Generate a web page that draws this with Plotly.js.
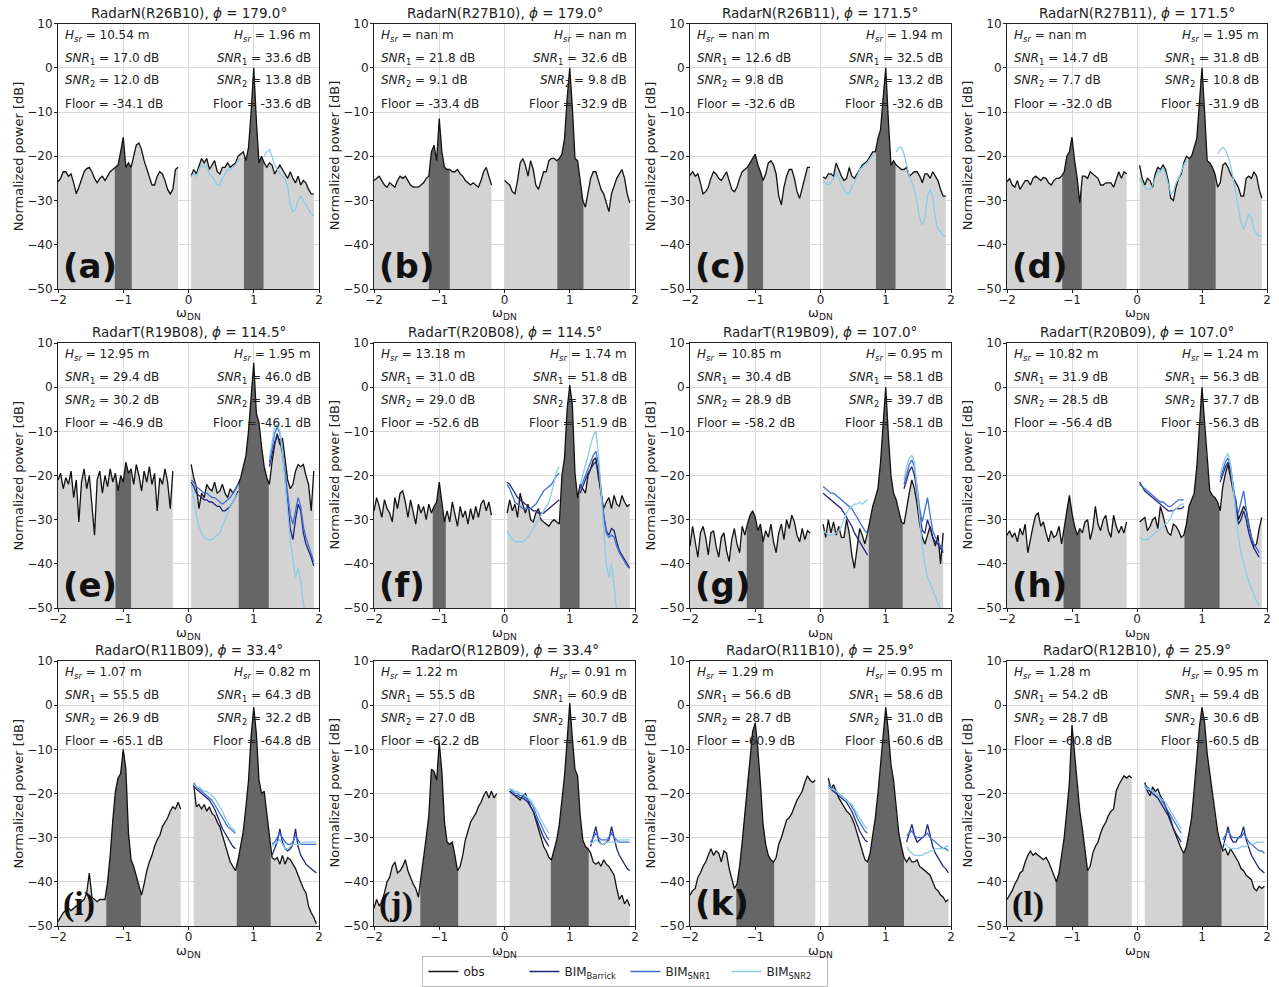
<!DOCTYPE html>
<html><head><meta charset="utf-8">
<script src="https://cdn.plot.ly/plotly-3.0.1.min.js"></script>
<style>html,body{margin:0;padding:0;background:#fff}#chart{width:1279px;height:987px}</style>
</head><body><div id="chart"></div>
<script>
const _ = null;
// frequency grid (omega_DN)
const FREQ_NEG = [-2,-1.96,-1.92,-1.88,-1.84,-1.8,-1.76,-1.72,-1.68,-1.64,-1.6,-1.56,-1.52,-1.48,-1.44,-1.4,-1.36,-1.32,-1.28,-1.24,-1.2,-1.16,-1.12,-1.08,-1.04,-1,-0.96,-0.92,-0.88,-0.84,-0.8,-0.76,-0.72,-0.68,-0.64,-0.6,-0.56,-0.52,-0.48,-0.44,-0.4,-0.36,-0.32,-0.28,-0.24,-0.2,-0.16,-0.12,-0.08,-0.04];
const FREQ_POS = [0,0.04,0.08,0.12,0.16,0.2,0.24,0.28,0.32,0.36,0.4,0.44,0.48,0.52,0.56,0.6,0.64,0.68,0.72,0.76,0.8,0.84,0.88,0.92,0.96,1,1.04,1.08,1.12,1.16,1.2,1.24,1.28,1.32,1.36,1.4,1.44,1.48,1.52,1.56,1.6,1.64,1.68,1.72,1.76,1.8,1.84,1.88,1.92,1.96,2];

const RADAR = ['RadarN(R26B10)','RadarN(R27B10)','RadarN(R26B11)','RadarN(R27B11)','RadarT(R19B08)','RadarT(R20B08)','RadarT(R19B09)','RadarT(R20B09)','RadarO(R11B09)','RadarO(R12B09)','RadarO(R11B10)','RadarO(R12B10)'];
const PHI = ['179.0','179.0','171.5','171.5','114.5','114.5','107.0','107.0','33.4','33.4','25.9','25.9'];
const LABELS = ['(a)','(b)','(c)','(d)','(e)','(f)','(g)','(h)','(i)','(j)','(k)','(l)'];
const HSR_LEFT = ['10.54','nan','nan','nan','12.95','13.18','10.85','10.82','1.07','1.22','1.29','1.28'];
const HSR_RIGHT = ['1.96','nan','1.94','1.95','1.95','1.74','0.95','1.24','0.82','0.91','0.95','0.95'];
const SNR1_LEFT = ['17.0','21.8','12.6','14.7','29.4','31.0','30.4','31.9','55.5','55.5','56.6','54.2'];
const SNR1_RIGHT = ['33.6','32.6','32.5','31.8','46.0','51.8','58.1','56.3','64.3','60.9','58.6','59.4'];
const SNR2_LEFT = ['12.0','9.1','9.8','7.7','30.2','29.0','28.9','28.5','26.9','27.0','28.7','28.7'];
const SNR2_RIGHT = ['13.8','9.8','13.2','10.8','39.4','37.8','39.7','37.7','32.2','30.7','31.0','30.6'];
const FLOOR_LEFT = ['-34.1','-33.4','-32.6','-32.0','-46.9','-52.6','-58.2','-56.4','-65.1','-62.2','-60.9','-60.8'];
const FLOOR_RIGHT = ['-33.6','-32.9','-32.6','-31.9','-46.1','-51.9','-58.1','-56.3','-64.8','-61.9','-60.6','-60.5'];
// first-order (Bragg) regions
const BAND_NEG = [[-1.13,-0.87],[-1.16,-0.84],[-1.12,-0.88],[-1.15,-0.85],[-1.12,-0.88],[-1.10,-0.90],[-1.13,-0.87],[-1.13,-0.87],[-1.26,-0.73],[-1.29,-0.71],[-1.29,-0.71],[-1.25,-0.75]];
const BAND_POS = [[0.85,1.15],[0.81,1.21],[0.85,1.15],[0.79,1.21],[0.77,1.23],[0.85,1.15],[0.74,1.26],[0.73,1.27],[0.74,1.26],[0.71,1.29],[0.73,1.28],[0.70,1.30]];

// ---- observed spectra ----
const OBS_A_NEG = [-25.8,-25,-23.5,-23.5,-24.5,-24,-26,-28.5,-27,-25,
-23.5,-22.8,-22.5,-23.5,-25,-26,-25,-24.5,-25.5,-24.5,
-23.5,-23,-22.5,-22,-19,-15.7,-22.5,-21.5,-22.5,-20,
-17.5,-17,-18.5,-21,-23,-25,-26.5,-26.5,-24.5,-23.5,
-24,-25.5,-27.5,-28.5,-27.5,-23,-22.5,_,_,_];
const OBS_A_POS = [_,-24.5,-23,-24,-22,-20.5,-21.5,-20.5,-23,-22,
-21,-23.5,-24,-22.5,-22.5,-21.5,-22.5,-22,-21.5,-20,
-19.5,-19,-21,-18,-10,0,-12,-21.5,-20,-21.5,
-22.5,-21.5,-22,-24,-23,-22,-23,-24,-25,-23.5,
-25,-26,-24.5,-26.5,-25.5,-26,-27.5,-28.5,-28.5,_,_];

const OBS_B_NEG = [-25.5,-25,-24.5,-25.5,-26.5,-27,-26,-26.5,-27,-25.5,
-24.5,-25,-24.5,-25.5,-26.5,-27,-27,-27,-26.5,-26,
-25,-24.5,-19,-17.5,-21,-11.5,-19,-22.5,-23,-23,
-23.5,-23.5,-23,-24,-24.5,-25.5,-26,-26.5,-26,-26.5,
-27,-25.5,-23.5,-22.5,-24.5,-26.5,_,_,_,_];
const OBS_B_POS = [-25.5,-26,-26.5,-28,-28.5,-25.5,-21.5,-20.5,-22,-24.5,
-21,-23,-26.5,-27.5,-25.5,-23.5,-23.5,-21,-20.5,-20.5,
-21,-20.5,-19.5,-16,-7,0,-9,-20.5,-21,-26,
-30,-31.5,-28.5,-25,-23.5,-23.5,-25.5,-27.5,-28.5,-30.5,
-32.5,-28.5,-26.5,-25,-24,-23,-25,-28.5,-30.5,_,_];

const OBS_C_NEG = [-24.3,-23.5,-24.5,-24,-26,-28.5,-28,-27,-25,-23.5,
-24,-25,-25.5,-24.5,-23.5,-25.5,-27.5,-28,-27,-25,
-23.5,-23,-22.5,-21.5,-20.5,-19.5,-22,-23.5,-25.5,-24,
-21.5,-21,-22,-24,-29,-31,-27,-24.5,-23,-23,
-25,-28,-29.5,-27,-25,-22.5,-22.5,_,_,_];
const OBS_C_POS = [_,-24.7,-25,-24,-24,-24.5,-21.5,-23,-24.5,-25.5,
-25,-22.5,-24.5,-25,-24,-23,-22,-21.5,-21,-20,
-19,-19,-16,-14,-6,0,-12,-22,-21,-22,
-22.5,-23,-23,-22.5,-24.5,-24,-23.5,-23.5,-24.5,-26,
-24,-24,-25,-23.5,-24.5,-25.5,-27.5,-29,-29,_,_];

const OBS_D_NEG = [-25.8,-25,-26.5,-27,-25.5,-27.5,-26.5,-25.5,-25.5,-26.5,
-25,-24.5,-25,-25.5,-24.8,-25,-26,-26.5,-25.5,-25,
-25,-24.5,-23.5,-20,-19,-15.7,-21,-25,-30.5,-24.5,
-24.5,-25,-23.5,-24,-24.5,-25,-26.5,-26.5,-26,-26,
-26,-27,-25,-23.5,-25,-23.5,-24,_,_,_];
const OBS_D_POS = [_,-22,-25,-26.5,-25,-25.5,-27,-24,-22.5,-23,
-22,-23,-25.5,-29.5,-30,-27,-25,-24,-21.5,-20,
-20.5,-20,-18,-16,-8,0,-10,-21,-21.5,-22.5,
-24,-27,-26,-22,-21.5,-22.5,-24,-25,-26,-27,
-29,-29,-25,-24.5,-25,-23.5,-24.5,-27.5,-29.5,_,_];

const OBS_E_NEG = [-21,-19.5,-23,-20.5,-22,-19,-25,-21,-30.5,-21.5,
-18.5,-23,-20,-26,-33.5,-21,-19,-24,-20,-22.5,
-18.5,-21.5,-19.5,-23.5,-20,-21.5,-17,-19.5,-18.5,-22,
-17.5,-20,-23.5,-19,-21.5,-18,-22,-19.5,-28,-20.5,
-22,-18.5,-21.5,-27.5,-19,_,_,_,_,_];
const OBS_E_POS = [_,-17.5,-20.5,-22.5,-27.5,-24,-25,-22,-23,-23.5,
-21.5,-24,-23.5,-22,-24,-25,-23,-24,-23,-22,
-20.5,-18,-15.5,-10,-2,5.5,-6,-8,-13.5,-18,
-20.5,-22,-17,-13,-10.5,-13,-11.5,-16.5,-21,-23,
-22,-19,-17.5,-18,-17.5,-20,-22,-28,-19,_,_];

const OBS_F_NEG = [-28,-25,-27,-29.5,-25.5,-27.5,-28.5,-30.5,-25,-27.5,
-24,-23.5,-26,-29.5,-25.5,-28,-31,-26.5,-28.5,-27,
-30,-26.5,-28.5,-27,-26,-21.5,-26,-30.5,-28,-30.5,
-26,-28.5,-31.5,-27,-29.5,-28,-31,-27.5,-30,-27,
-29.5,-26.5,-25.5,-28,-26,-29,_,_,_,_];
const OBS_F_POS = [_,-28.5,-25.5,-28,-26.5,-29.5,-24,-26.5,-28.5,-26.5,
-30,-30.5,-28.5,-27.5,-30,-30.5,-31,-31.5,-30.5,-30,
-30.5,-31,-20,-16,-5,0.5,-4,-19.5,-25,-22,
-23,-24,-20,-18.5,-16.5,-16,-20.5,-24,-27.5,-26,
-25,-27.5,-24.5,-26.5,-27,-24.5,-26,-27,-26.5,_,_];

const OBS_G_NEG = [-36,-31.5,-35,-38.5,-33,-31.5,-34,-38,-33,-32.5,
-36,-38.5,-34,-33,-37,-39.5,-34.5,-32,-35.5,-37.5,
-31.5,-33.5,-31,-29,-28,-29.5,-32.5,-31,-35,-32.5,
-34,-31,-35,-37.5,-33,-31,-34.5,-30,-32,-29,
-30.5,-33.5,-35,-32,-34.5,-32.5,-33,_,_,_];
const OBS_G_POS = [_,-31,-34,-30,-33,-30.5,-33.5,-31.5,-34,-34,
-30,-33,-38,-41,-36.5,-32,-33.5,-35.5,-33,-30,
-27,-25,-23,-17,-8,0,-11,-20,-24,-25.5,
-28,-30.5,-31,-27,-24,-21,-23,-26.5,-31,-34,
-35.5,-33.5,-31.5,-34,-36,-33.5,-40,-33,_,_,_];

const OBS_H_NEG = [-33.5,-32.5,-34,-33,-35,-32,-33.5,-31,-37.5,-34,
-31.5,-29,-28.5,-31.5,-30.5,-33,-35,-32.5,-34,-33.5,
-31.5,-35.5,-32,-27.5,-24.5,-28.5,-31.5,-33.5,-32,-33,
-30.5,-30,-34.5,-32,-27,-31,-32.5,-30,-29,-32.5,
-34,-29,-31.5,-33,-31.5,-33,-30.5,_,_,_];
const OBS_H_POS = [_,-30.5,-30,-29.5,-32.5,-31.5,-30,-29.5,-32,-27,
-29,-31.5,-33,-33.5,-31,-31.5,-32.5,-34,-33.5,-31,
-27,-25.5,-24,-18,-9.5,0,-8,-17,-23.5,-24.5,
-25,-26,-28,-22.5,-19.5,-17.5,-20.5,-23.5,-25.5,-30,
-28.5,-27,-28,-31.5,-34,-36,-35.5,-32,-29.5,_,_];

const OBS_I_NEG = [-49,-48,-47,-46.5,-46,-46.5,-46,-45.5,-45,-44.5,
-44,-42.5,-38,-43.5,-44,-44.5,-44,-44,-44,-40,
-34,-26,-19.5,-16.5,-15.5,-10,-14.5,-29,-35,-36.5,
-38.5,-41,-43,-40.5,-37.5,-35.5,-34,-32,-30.5,-29.5,
-27.5,-26.5,-25.5,-24,-23,-23.5,-22,-23.5,_,_];
const OBS_I_POS = [_,_,-18,-23,-22.5,-23.5,-22.5,-24,-23,-24.5,
-25,-26.5,-27.5,-29.5,-31.5,-33.5,-35.5,-36.5,-37.5,-35,
-32,-28.5,-23,-17,-7,-0.5,-6.5,-17,-20,-19.5,
-24.5,-29.5,-34.5,-35,-34.5,-36,-34,-36,-34.5,-35,
-36,-37,-38.5,-40,-41.5,-42.5,-45.5,-47,-48,-49.5,_];

const OBS_J_NEG = [-46,-44,-45.5,-44.5,-42.5,-40,-39,-36.5,-35.5,-38,
-37.5,-36.5,-35,-37.5,-39,-40.5,-41.5,-43.5,-39,-35,
-30,-25,-14.5,-15,-17,-8.5,-15,-26.5,-31,-31.5,
-31,-34,-37.5,-36.5,-34,-30.5,-28.5,-26.5,-25.5,-24.5,
-23,-22,-20.5,-19.5,-21,-19.5,-21,-20,_,_];
const OBS_J_POS = [_,_,-19.5,-20,-20.5,-21,-21.5,-20.5,-20,-21.5,
-23,-24,-26,-28,-30.5,-32,-33,-34.5,-35,-33,
-30.5,-27,-22,-16,-8,0.5,-7.5,-14.5,-16,-25,
-30.5,-32,-32.5,-33.5,-35.5,-36,-35.5,-36.5,-35,-36,
-36.5,-37.5,-38.5,-41.5,-44,-43,-45,-44,-45.5,_,_];

const OBS_K_NEG = [-43,-42,-41.5,-39,-38,-36.5,-35.5,-34,-32.5,-34,
-33,-33.5,-35.5,-33,-33.5,-37,-39.5,-41.5,-40.5,-36.5,
-31,-24.5,-17.5,-12,-6,-4,-10,-18,-27,-31.5,
-34,-35,-35.5,-34.5,-31.5,-30,-28,-26,-25.5,-24.5,
-23,-21.5,-20.5,-19.5,-17.5,-16,-17,-17.5,-17,_];
const OBS_K_POS = [_,_,_,-16.5,-19,-18,-19.5,-21,-22,-23,
-24,-24.5,-25.5,-27,-29,-31,-32.5,-35,-35.5,-33.5,
-29.5,-25.5,-20,-14,-7.5,-0.5,-6,-13.5,-17,-24,
-29,-32,-34.5,-35.5,-34.5,-35.5,-35.5,-35,-36.5,-37,
-37.5,-38,-38.5,-40,-41.5,-42,-43,-43.5,-44.5,-44,_];

const OBS_L_NEG = [-44,-43,-42,-40.5,-39.5,-38,-37.5,-35.5,-34,-33,
-34,-33.5,-34,-34.5,-35,-34.5,-35.5,-37,-38.5,-40,
-38,-34.5,-30,-24,-17.5,-4.5,-11,-18.5,-24,-28,
-32.5,-37.5,-36.5,-33.5,-32,-31,-29,-27.5,-26.5,-25,
-24,-23.5,-19.5,-18,-17,-16,-16.5,-16,-16.5,_];
const OBS_L_POS = [_,_,_,-17.5,-19.5,-20.5,-18.5,-19.5,-19,-20.5,
-21.5,-23,-24.5,-26,-28,-29.5,-31,-32.5,-33.5,-32,
-29,-25.5,-19,-12.5,-5,-0.5,-4,-11,-15.5,-20,
-25,-28.5,-31,-33,-32.5,-34,-32.5,-33.5,-34.5,-35.5,
-37,-37.5,-38.5,-39,-39.5,-41.5,-42,-41,-41.5,-41,_];

// ---- BIM spectra (positive side, on FREQ_POS) ----
const BIM2_A = [_,-24.5,-24,-24.5,-23,-22,-22.5,-22,-24,-24.5,
-25.5,-26.5,-26.5,-25,-24,-23,-23,-22.5,-22,-21,
-20.5,_,_,_,_,_,_,_,_,-20,
-19,-18.5,-20,-22,-23,-24,-24.5,-25,-27,-31,
-32.5,-32,-30,-29,-30,-31,-32,-33,-33.5,_,_];
const BIM2_C = [_,-25.8,-26,-26.5,-26,-25,-24,-25,-26.5,-27.5,
-28.5,-28.5,-27,-26,-24.5,-23,-22.5,-22,-21.5,-20.5,
-20,-19.5,_,_,_,_,_,_,_,-19,
-18,-18,-19.5,-22,-24.5,-26,-27.5,-30.5,-34,-35.5,
-34,-29,-27.5,-29,-34,-36.5,-37,-38,-38,_,_];
const BIM2_D = [_,-25,-26,-27,-27.5,-27.5,-26.5,-25,-23.5,-23.5,
-22.5,-24,-26.5,-28.5,-28,-26,-25,-23.5,-22,-21,
_,_,_,_,_,_,_,_,_,_,
_,-19.5,-18.5,-18,-18.5,-20,-22,-25,-28.5,-32,
-35,-36.5,-35,-33,-34,-36.5,-37.5,-38,-38,_,_];

const BIMB_E = [_,-21.5,-22.5,-24,-24.5,-25,-25.5,-25.5,-26,-26,
-26.5,-27,-27,-28,-28,-27.5,-27,-26,-25,-23.5,
_,_,_,_,_,_,_,_,_,_,
_,-18,-15,-12.5,-11,-12,-15,-20,-26,-32,
-34.5,-30,-26.5,-28,-33,-35.5,-37,-38.5,-40.5,_,_];
const BIM1_E = [_,-21,-21.5,-22.5,-23,-23.5,-24,-24,-24.5,-25,
-25,-25.5,-26,-26.5,-26,-25.5,-25,-24,-23,-22,
_,_,_,_,_,_,_,_,_,_,
_,-17,-13.5,-10.5,-9,-10.5,-14,-19.5,-24.5,-29,
-31,-28,-25,-27,-31.5,-34,-36,-38,-39.5,_,_];
const BIM2_E = [_,-22,-25,-29,-31.5,-33,-34,-34.5,-34.5,-34.5,
-34,-33.5,-33,-31.5,-30,-28.5,-27,-26,-25,-24,
_,_,_,_,_,_,_,_,_,_,
_,-16,-12,-9,-8.5,-10,-14.5,-21,-28,-35,
-39,-43,-41,-44,-49,-52,_,_,_,_,_];

const BIMB_F = [_,-21.5,-22,-23,-24,-25,-25.5,-26,-26.5,-27,
-27.5,-28,-28,-28.5,-28.5,-28.5,-28,-27.5,-27,-26.5,
-26,-25.5,_,_,_,_,_,_,_,-24,
-22.5,-21,-19.5,-18.5,-17.5,-17,-19,-24,-29,-32.5,
-33.5,-32,-32.5,-35,-37,-38,-39,-40,-41,_,_];
const BIM1_F = [_,-22,-23,-24.5,-26,-26.5,-27,-27.5,-27.5,-27.5,
-27.5,-27,-26.5,-25.5,-24.5,-23.5,-23,-22.5,-22,-21,
-20,-19.5,_,_,_,_,_,_,_,-23,
-21.5,-20,-18.5,-17,-15.5,-14.5,-17.5,-23,-29,-33,
-34,-33.5,-34,-36,-37.5,-38.5,-39.5,-40.5,-41,_,_];
const BIM2_F = [_,-32.5,-33.5,-34.5,-35,-35,-35,-35,-34.5,-34,
-33,-32,-31,-30,-29,-28,-27,-26,-24,-21.5,
-19,-18,_,_,_,_,_,_,_,-22,
-20,-18,-15.5,-13,-11,-10,-15,-24,-33,-40,
-43,-40,-45,-51,_,_,_,_,_,_,_];

const BIMB_G = [_,-24,-24.5,-25,-25.5,-26,-26.5,-27,-27.5,-28.5,
-29.5,-30.5,-31.5,-33,-34,-35,-36,-37,-38,_,
_,_,_,_,_,_,_,_,_,_,
_,_,-23,-21,-19,-18,-20,-24,-29,-32.5,
-33,-30,-32,-34,-35,-35.5,-36.5,-37.5,_,_,_];
const BIM1_G = [_,-22.5,-23,-23.5,-24,-24,-24.5,-25,-25.5,-26,
-26.5,-27,-27.5,-28.5,-29.5,-30.5,-31.5,-32.5,-33,_,
_,_,_,_,_,_,_,_,_,_,
_,_,-22,-19.5,-17.5,-16.5,-18,-22.5,-27.5,-30.5,
-28,-25,-29,-32.5,-34,-35,-36,-37,_,_,_];
const BIM2_G = [_,-32.5,-33,-33.5,-33.5,-33.5,-33,-32.5,-31.5,-30,
-28.5,-27.5,-27,-26.5,-26.5,-26,-26.5,-26,-25.5,_,
_,_,_,_,_,_,_,_,_,_,
_,_,-21,-18,-16,-15.5,-17,-23,-30,-36,
-40,-43,-44.5,-46,-47.5,-49,-50.5,_,_,_,_];

const BIMB_H = [_,-21.5,-22.5,-23.5,-24,-24.5,-25,-25.5,-26,-26.5,
-27,-27.5,-28,-28,-28,-27.5,-27.5,-27.5,-27,_,
_,_,_,_,_,_,_,_,_,_,
_,_,-21.5,-19.5,-18,-17,-19,-23,-27.5,-31,
-30,-28,-30,-33,-35,-36.5,-37.5,-38.5,_,_,_];
const BIM1_H = [_,-22,-22.5,-23,-23.5,-24,-24.5,-25,-25.5,-26,
-26,-26.5,-27,-27,-26.5,-26,-25.5,-25.5,-25.5,_,
_,_,_,_,_,_,_,_,_,_,
_,_,-20.5,-18.5,-17,-16,-18,-22,-26.5,-28.5,
-26,-23.5,-27.5,-31.5,-34,-35.5,-36.5,-37.5,_,_,_];
const BIM2_H = [_,-34,-34.5,-34.5,-34.5,-34,-33.5,-33,-32.5,-32,
-31.5,-31,-30.5,-29.5,-28,-27.5,-27,-26.5,-26.5,_,
_,_,_,_,_,_,_,_,_,_,
_,_,-20,-17.5,-16,-15,-17.5,-23,-29,-34,
-37.5,-40,-42,-44,-45.5,-47,-48.5,-49.5,_,_,_];

const BIMB_I = [_,_,-18,-19,-19.5,-20,-20.5,-21,-21.5,-22.5,
-23.5,-25,-26.5,-28,-29,-30,-31,-32,-32.5,_,
_,_,_,_,_,_,_,_,_,_,
_,_,-34,-32.5,-31,-28,-31,-32.5,-33,-32.5,
-31.5,-28,-32,-34,-35,-36,-36.5,-37,-37.5,-38,_];
const BIM1_I = [_,_,-17.5,-18.5,-19,-19.5,-20,-20.5,-21,-21.5,
-22.5,-23.5,-24.5,-25.5,-26.5,-27.5,-28,-28.5,-29,_,
_,_,_,_,_,_,_,_,_,_,
_,_,-31.5,-31,-30,-29,-30,-31,-31.5,-31.5,
-31,-29.5,-30.5,-31.5,-31.5,-31.5,-31.5,-31.5,-31.5,-31.5,_];
const BIM2_I = [_,_,-18,-18.5,-18.5,-19,-19.5,-19.5,-20,-20.5,
-21,-22,-23,-24,-25.5,-26.5,-27.5,-28,-28.5,_,
_,_,_,_,_,_,_,_,_,_,
_,_,-32,-31.5,-31,-30.5,-31.5,-32.5,-32.5,-32,
-31.5,-31.5,-31.5,-31.5,-31,-31,-31,-31,-31,-31,_];

const BIMB_J = [_,_,-19.5,-20,-20.5,-20.5,-21,-21,-21.5,-22,
-23,-24,-25.5,-27,-28.5,-30,-31,-32,_,_,
_,_,_,_,_,_,_,_,_,_,
_,_,_,-32,-29.5,-27.5,-30.5,-31.5,-31.5,-31,
-30.5,-27.5,-30,-32.5,-34,-35,-36,-37,-37.5,_,_];
const BIM1_J = [_,_,-19,-19.5,-20,-20,-20.5,-20.5,-21,-21.5,
-22,-23,-24.5,-26,-27,-28.5,-29.5,-30.5,_,_,
_,_,_,_,_,_,_,_,_,_,
_,_,_,-31,-30,-29,-30,-30.5,-30.5,-30.5,
-30,-29,-30,-30.5,-31,-31,-31,-31,-31,_,_];
const BIM2_J = [_,_,-19,-19,-19.5,-19.5,-20,-20,-20.5,-21,
-21.5,-22.5,-23.5,-24.5,-26,-27,-28,-29,_,_,
_,_,_,_,_,_,_,_,_,_,
_,_,_,-31.5,-31,-30.5,-31,-31.5,-31.5,-31,
-31,-31,-31,-31,-30.5,-30.5,-30.5,-30.5,-30.5,_,_];

const BIMB_K = [_,_,_,-18.5,-19,-19.5,-20,-20.5,-21,-21.5,
-22,-23,-24,-25.5,-27,-28.5,-29.5,-30.5,-31,_,
_,_,_,_,_,_,_,_,_,_,
_,_,_,-31,-29,-27,-29.5,-31,-30.5,-30,
-29.5,-27,-29.5,-32,-33.5,-34.5,-35.5,-36.5,-37,-38,_];
const BIM1_K = [_,_,_,-18,-18.5,-19,-19.5,-20,-20.5,-21,
-21.5,-22,-23,-24,-25.5,-26.5,-27.5,-28.5,-29,_,
_,_,_,_,_,_,_,_,_,_,
_,_,_,-29.5,-29,-28.5,-29.5,-30,-30,-30,
-29.5,-29,-30,-30.5,-31,-31.5,-32,-32.5,-32.5,-33,_];
const BIM2_K = [_,_,_,-18.5,-19,-19,-19.5,-20,-20.5,-21,
-21.5,-22,-22.5,-23.5,-24.5,-25.5,-26.5,-27.5,-28,_,
_,_,_,_,_,_,_,_,_,_,
_,_,_,-32,-33,-33.5,-34,-34,-34,-34,
-33.5,-33.5,-33,-33,-32.5,-32.5,-32.5,-32.5,-32,-32,_];

const BIMB_L = [_,_,_,-18.5,-19,-19.5,-20,-20.5,-21,-22,
-23,-24,-25,-26.5,-28,-29,-30,-31,_,_,
_,_,_,_,_,_,_,_,_,_,
_,_,_,-32.5,-30,-27.5,-30,-31,-31,-30,
-29.5,-27.5,-30.5,-32.5,-34,-35,-36,-37,-37.5,-38,_];
const BIM1_L = [_,_,_,-18,-18.5,-19,-19.5,-20,-20.5,-21,
-22,-23,-24,-25,-26,-27,-28,-29,_,_,
_,_,_,_,_,_,_,_,_,_,
_,_,_,-30.5,-29.5,-28.5,-29.5,-30,-30,-30,
-30,-29,-30,-31,-31.5,-32,-32.5,-33,-33,-33.5,_];
const BIM2_L = [_,_,_,-18.5,-19,-19,-19.5,-20,-20.5,-21,
-21.5,-22,-23,-24,-25,-26,-27,-28,_,_,
_,_,_,_,_,_,_,_,_,_,
_,_,_,-31,-31.5,-32,-32.5,-32.5,-32.5,-32.5,
-32,-32,-32,-31.5,-31.5,-31.5,-31,-31,-31,-31,_];

// ---------------- build ----------------
const FREQ = FREQ_NEG.concat(FREQ_POS);
const OBS = [[OBS_A_NEG,OBS_A_POS],[OBS_B_NEG,OBS_B_POS],[OBS_C_NEG,OBS_C_POS],[OBS_D_NEG,OBS_D_POS],
  [OBS_E_NEG,OBS_E_POS],[OBS_F_NEG,OBS_F_POS],[OBS_G_NEG,OBS_G_POS],[OBS_H_NEG,OBS_H_POS],
  [OBS_I_NEG,OBS_I_POS],[OBS_J_NEG,OBS_J_POS],[OBS_K_NEG,OBS_K_POS],[OBS_L_NEG,OBS_L_POS]].map(p => p[0].concat(p[1]));
const BIM_BARRICK = [_,_,_,_,BIMB_E,BIMB_F,BIMB_G,BIMB_H,BIMB_I,BIMB_J,BIMB_K,BIMB_L];
const BIM_SNR1 = [_,_,_,_,BIM1_E,BIM1_F,BIM1_G,BIM1_H,BIM1_I,BIM1_J,BIM1_K,BIM1_L];
const BIM_SNR2 = [BIM2_A,_,BIM2_C,BIM2_D,BIM2_E,BIM2_F,BIM2_G,BIM2_H,BIM2_I,BIM2_J,BIM2_K,BIM2_L];

const W = 1279, H = 987, BASE = -50;
const COLS = [[58,319],[374,635],[690,951],[1007,1267]];
const ROWS = [[23.5,289],[343,608],[661,926]];
const C_LIGHT = '#d3d3d3', C_DARK = '#666666';
const C_OBS = '#111111', C_BAR = '#1f2679', C_S1 = '#3f6fd6', C_S2 = '#8ccbe6';
const FONT = 'DejaVu Sans, sans-serif';

function areaPolygon(xs, ys) {
  const px = [], py = []; let run = [];
  const flush = () => {
    if (run.length) {
      px.push(run[0][0]); py.push(BASE);
      run.forEach(p => { px.push(p[0]); py.push(p[1]); });
      px.push(run[run.length-1][0]); py.push(BASE);
      px.push(null); py.push(null);
    }
    run = [];
  };
  xs.forEach((x, i) => { if (ys[i] === null) flush(); else run.push([x, ys[i]]); });
  flush();
  return {px, py};
}
function valueAt(xs, ys, x) {
  for (let i = 0; i < xs.length - 1; i++) {
    if (xs[i] <= x + 1e-9 && x <= xs[i+1] + 1e-9 && ys[i] !== null && ys[i+1] !== null) {
      const t = (x - xs[i]) / (xs[i+1] - xs[i]);
      return ys[i] + t * (ys[i+1] - ys[i]);
    }
  }
  return BASE;
}
function bandPolygon(xs, ys, lo, hi, acc) {
  acc.px.push(lo); acc.py.push(BASE);
  acc.px.push(lo); acc.py.push(valueAt(xs, ys, lo));
  xs.forEach((x, i) => { if (x > lo + 1e-9 && x < hi - 1e-9 && ys[i] !== null) { acc.px.push(x); acc.py.push(ys[i]); } });
  acc.px.push(hi); acc.py.push(valueAt(xs, ys, hi));
  acc.px.push(hi); acc.py.push(BASE);
  acc.px.push(null); acc.py.push(null);
}

const traces = [], annotations = [], layout = {};
const shown = {obs:false, bar:false, s1:false, s2:false};
const TXT = {size: 12, color: '#222', family: FONT};

for (let k = 0; k < 12; k++) {
  const r = Math.floor(k / 4), c = k % 4;
  const sfx = k === 0 ? '' : String(k + 1);
  const xa = 'x' + sfx, ya = 'y' + sfx;
  layout['xaxis' + sfx] = {
    domain: [COLS[c][0] / W, COLS[c][1] / W], anchor: ya,
    range: [-2, 2], tickvals: [-2, -1, 0, 1, 2], ticktext: ['−2','−1','0','1','2'],
    showgrid: true, gridcolor: '#d9d9d9', gridwidth: 1, zeroline: false,
    showline: true, mirror: true, linecolor: '#222', linewidth: 1,
    ticks: 'outside', ticklen: 3, tickcolor: '#222', ticklabelstandoff: -3,
    tickfont: TXT, fixedrange: true
  };
  layout['yaxis' + sfx] = {
    domain: [1 - ROWS[r][1] / H, 1 - ROWS[r][0] / H], anchor: xa,
    range: [-50, 10], tickvals: [-50, -40, -30, -20, -10, 0, 10], ticktext: ['−50','−40','−30','−20','−10','0','10'],
    showgrid: true, gridcolor: '#d9d9d9', gridwidth: 1, zeroline: false,
    showline: true, mirror: true, linecolor: '#222', linewidth: 1,
    ticks: 'outside', ticklen: 3, tickcolor: '#222', ticklabelstandoff: -1,
    tickfont: TXT, fixedrange: true
  };

  const ys = OBS[k];
  const area = areaPolygon(FREQ, ys);
  traces.push({type: 'scatter', x: area.px, y: area.py, xaxis: xa, yaxis: ya, mode: 'none',
    fill: 'toself', fillcolor: C_LIGHT, hoverinfo: 'skip', showlegend: false});
  const dark = {px: [], py: []};
  bandPolygon(FREQ, ys, BAND_NEG[k][0], BAND_NEG[k][1], dark);
  bandPolygon(FREQ, ys, BAND_POS[k][0], BAND_POS[k][1], dark);
  traces.push({type: 'scatter', x: dark.px, y: dark.py, xaxis: xa, yaxis: ya, mode: 'none',
    fill: 'toself', fillcolor: C_DARK, hoverinfo: 'skip', showlegend: false});

  traces.push({type: 'scatter', mode: 'lines', x: FREQ, y: ys, xaxis: xa, yaxis: ya,
    line: {color: C_OBS, width: 1.3}, name: 'obs', legendgroup: 'obs', legendrank: 1,
    showlegend: !shown.obs});
  shown.obs = true;

  const bims = [[BIM_BARRICK[k], C_BAR, 'BIM<sub>Barrick</sub>', 'bar', 2],
                [BIM_SNR1[k], C_S1, 'BIM<sub>SNR1</sub>', 's1', 3],
                [BIM_SNR2[k], C_S2, 'BIM<sub>SNR2</sub>', 's2', 4]];
  bims.forEach(b => {
    if (!b[0]) return;
    traces.push({type: 'scatter', mode: 'lines', x: FREQ_POS, y: b[0], xaxis: xa, yaxis: ya,
      line: {color: b[1], width: 1.3}, name: b[2], legendgroup: b[3], legendrank: b[4],
      showlegend: !shown[b[3]]});
    shown[b[3]] = true;
  });

  // subplot title
  annotations.push({xref: xa + ' domain', yref: ya + ' domain', x: 0.5, y: 1, yanchor: 'bottom', yshift: 1,
    xanchor: 'center', showarrow: false,
    text: RADAR[k] + ', <i>ϕ</i> = ' + PHI[k] + '°', font: {size: 13.5, color: '#222', family: FONT}});
  // axis titles
  annotations.push({xref: xa + ' domain', yref: ya + ' domain', x: 0.5, y: 0, yanchor: 'middle', yshift: -25,
    xanchor: 'center', showarrow: false, text: 'ω<sub>DN</sub>', font: {size: 13, color: '#222', family: FONT}});
  annotations.push({xref: xa + ' domain', yref: ya + ' domain', x: 0, y: 0.5, xanchor: 'center', yanchor: 'middle',
    xshift: -40, textangle: -90, showarrow: false, text: 'Normalized power [dB]',
    font: {size: 13, color: '#222', family: FONT}});
  // statistics
  const ly = [7.2, 2.0, -3.1, -8.2];
  const left = ['<i>H<sub>sr</sub></i> = ' + HSR_LEFT[k] + ' m', '<i>SNR</i><sub>1</sub> = ' + SNR1_LEFT[k] + ' dB',
                '<i>SNR</i><sub>2</sub> = ' + SNR2_LEFT[k] + ' dB', 'Floor = ' + FLOOR_LEFT[k] + ' dB'];
  const right = ['<i>H<sub>sr</sub></i> = ' + HSR_RIGHT[k] + ' m', '<i>SNR</i><sub>1</sub> = ' + SNR1_RIGHT[k] + ' dB',
                 '<i>SNR</i><sub>2</sub> = ' + SNR2_RIGHT[k] + ' dB', 'Floor = ' + FLOOR_RIGHT[k] + ' dB'];
  for (let j = 0; j < 4; j++) {
    annotations.push({xref: xa, yref: ya, x: -1.92, y: ly[j], xanchor: 'left', yanchor: 'middle', showarrow: false,
      text: left[j], font: TXT});
    annotations.push({xref: xa, yref: ya, x: 1.91, y: ly[j], xanchor: 'right', yanchor: 'middle', showarrow: false,
      text: right[j], font: TXT});
  }
  // panel label
  const serif = (k === 8 || k === 9 || k === 11);
  annotations.push({xref: xa + ' domain', yref: ya + ' domain', x: 0.01, y: 0.005, xanchor: 'left', yanchor: 'bottom',
    showarrow: false, text: '<b>' + LABELS[k] + '</b>',
    font: {size: 34, color: '#111', family: serif ? 'Liberation Serif, serif' : FONT}});
}

Object.assign(layout, {
  width: W, height: H, margin: {l: 0, r: 0, t: 0, b: 0},
  paper_bgcolor: '#fff', plot_bgcolor: '#fff',
  font: {family: FONT, color: '#222'},
  showlegend: true,
  legend: {orientation: 'h', x: 0.489, xanchor: 'center', y: 0.0155, yanchor: 'middle',
    bgcolor: '#fff', bordercolor: '#bbb', borderwidth: 1, font: {size: 12, family: FONT},
    traceorder: 'normal', itemwidth: 30, entrywidth: 56, entrywidthmode: 'pixels'},
  annotations: annotations
});

Plotly.newPlot('chart', traces, layout, {displayModeBar: false, staticPlot: true});
</script></body></html>
